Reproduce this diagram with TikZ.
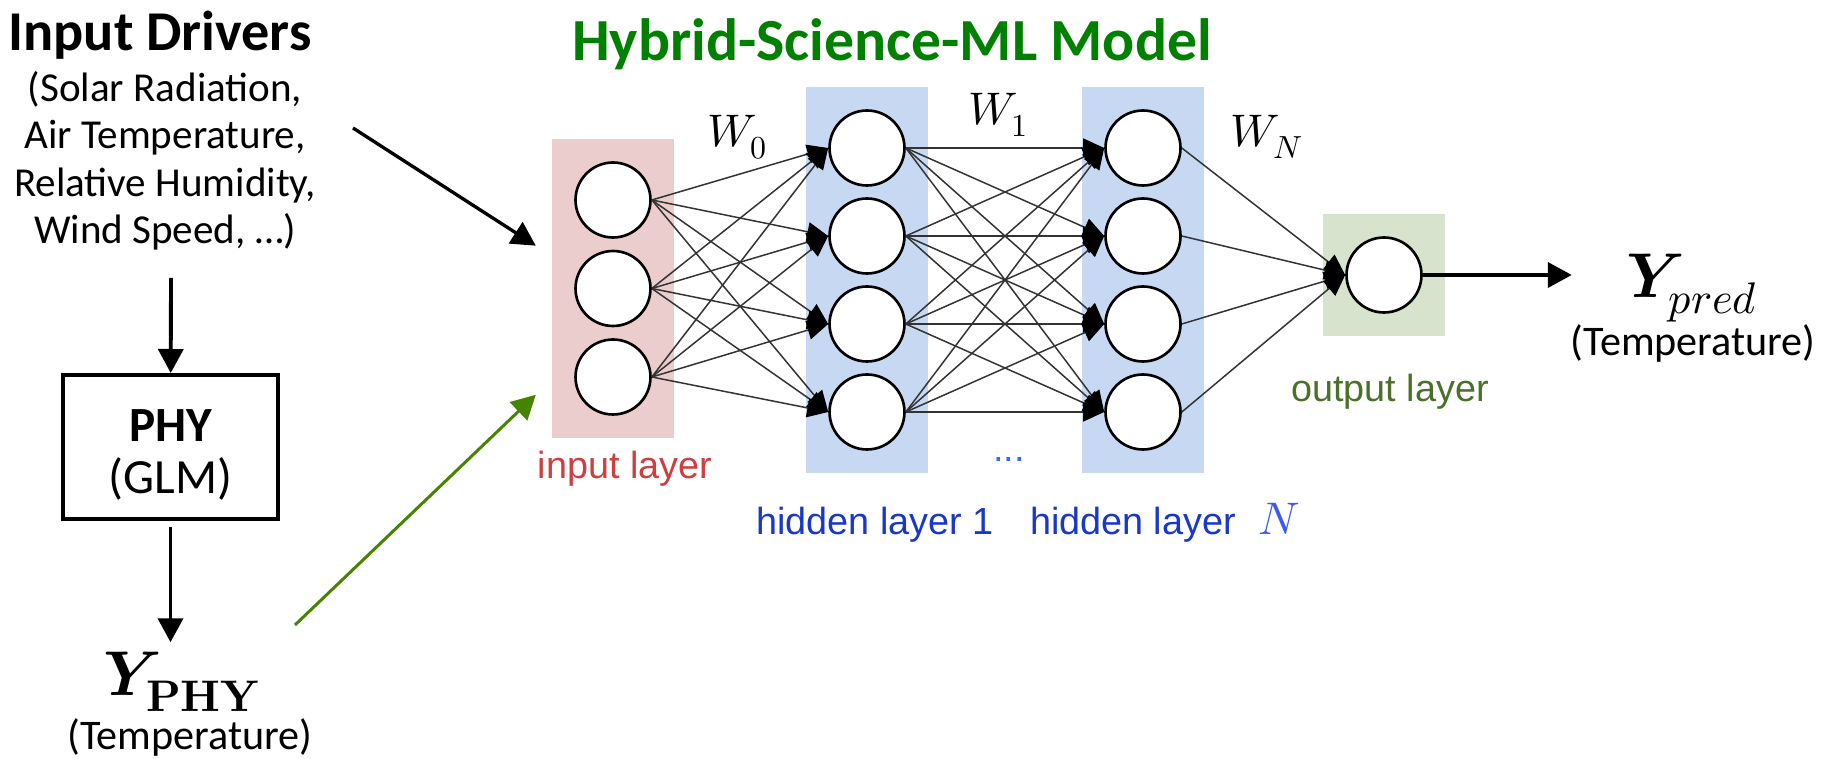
\documentclass[tikz,border=0pt]{standalone}
\usepackage{fontspec}
\usepackage{unicode-math}
\setmainfont{Carlito}
\newfontfamily\arialfont{Liberation Sans}
\usetikzlibrary{arrows.meta,fit,backgrounds}

\definecolor{inpink}{RGB}{236,205,205}
\definecolor{hidblue}{RGB}{199,217,242}
\definecolor{outgreen}{RGB}{215,227,205}
\definecolor{inred}{RGB}{204,64,64}
\definecolor{hidtext}{RGB}{25,55,200}
\definecolor{nblue}{RGB}{60,90,235}
\definecolor{dotblue}{RGB}{50,110,245}
\definecolor{outtext}{RGB}{74,112,42}
\definecolor{titlegreen}{RGB}{0,128,0}
\definecolor{feedgreen}{RGB}{70,132,0}

\begin{document}
\begin{tikzpicture}[
  x=0.02cm, y=-0.02cm,
  neuron/.style  = {draw, circle, fill=white, line width=1.5pt, minimum size=1.5cm, inner sep=0pt},
  layerbg/.style = {inner sep=0.45cm, fill=#1},
  syn/.style     = {draw=black!80, line width=0.85pt, -{Triangle[length=0.42cm, width=0.38cm, color=black]}},
  fat/.style     = {line width=2.2pt, -{Triangle[length=0.48cm, width=0.5cm]}},
  lyr/.style     = {font=\arialfont\fontsize{21.5}{24}\selectfont, anchor=base},
  wlab/.style    = {font=\fontsize{26}{29}\selectfont, anchor=base},
  ylab/.style    = {font=\fontsize{36}{40}\selectfont, anchor=base, inner sep=0pt},
  temp/.style    = {font=\fontsize{24}{27}\selectfont, anchor=base},
]

\useasboundingbox (0,0) rectangle (1829,759);

% --- title ----------------------------------------------------------------
\node[font=\bfseries\fontsize{34}{38}\selectfont, text=titlegreen, anchor=base] (title) at (892,61) {Hybrid-Science-ML Model};

% --- drivers and physics model (left column) -----------------------------
\node[font=\bfseries\fontsize{32}{36}\selectfont, anchor=base] (drv) at (160,51) {Input Drivers};
\node[font=\fontsize{23.4}{27}\selectfont, align=center] (drvlist) at (165,161) {%
  (Solar Radiation,\\ Air Temperature,\\ Relative Humidity,\\ Wind Speed, …)};

\node[draw, line width=2.3pt, minimum width=4.3cm, minimum height=2.88cm] (phy) at (170.5,447) {};
\node[font=\bfseries\fontsize{28}{33}\selectfont, anchor=base] (phyname) at (170.5,442) {PHY};
\node[font=\fontsize{28}{33}\selectfont, anchor=base] (phyglm) at (170.5,494) {(GLM)};

\node[ylab] (ypy) at (182,696) {$\symbfit{Y}_{\symbf{PHY}}$};
\node[temp] (ypytemp) at (190,749) {(Temperature)};

\coordinate (drvfoot) at (171,278);
\coordinate (drvtail) at (353,128);
\coordinate (phytail) at (295,625);

% --- network ----------------------------------------------------------------
\foreach \n/\y in {1/200,2/288.5,3/377}
  \node[neuron] (i\n) at (613,\y) {};
\foreach \n/\y in {1/148,2/236,3/324,4/412} {
  \node[neuron] (a\n) at (867,\y) {};
  \node[neuron] (b\n) at (1143,\y) {};
}
\node[neuron] (o) at (1384,275) {};

\begin{scope}[on background layer]
  \node[layerbg=inpink, fit=(i1)(i3)] (inl) {};
  \node[layerbg=hidblue, fit=(a1)(a4)] (hl1) {};
  \node[layerbg=hidblue, fit=(b1)(b4)] (hln) {};
  \node[layerbg=outgreen, fit=(o)] (outl) {};
\end{scope}

\foreach \i in {1,2,3}
  \foreach \j in {1,...,4}
    \draw[syn] (i\i.east) -- (a\j.west);
\foreach \i in {1,...,4}
  \foreach \j in {1,...,4}
    \draw[syn] (a\i.east) -- (b\j.west);
\foreach \i in {1,...,4}
  \draw[syn] (b\i.east) -- (o.west);

\node[wlab] (w0) at (737,147) {$W_0$};
\node[wlab] (w1) at (998,125) {$W_1$};
\node[wlab] (wn) at (1267,147) {$W_N$};

\node[lyr, text=inred] (inlab) at (625,479) {input layer};
\node[lyr, text=hidtext] (h1lab) at (875,535) {hidden layer 1};
\node[lyr, text=hidtext] (hnlab) at (1165,535) {hidden layer\hspace{0.6em}{\color{nblue}\fontsize{26}{29}\selectfont$N$}};
\node[lyr, text=outtext] (outlab) at (1390,402) {output layer};
\node[lyr, text=dotblue] (dots) at (1009,462) {...};

% --- prediction -------------------------------------------------------------
\node[ylab] (ypred) at (1692,298) {$\symbfit{Y}_{pred}$};
\node[temp] (ypredtemp) at (1693,356) {(Temperature)};

% --- connectors -------------------------------------------------------------
\draw[fat] (drvfoot) -- (phy);
\draw[fat, shorten <=0.12cm, shorten >=0.2cm] (phy.south) -- (phy.south |- ypy.north);
\draw[fat, line width=1.9pt, shorten >=0.37cm] (drvtail) -- (inl.152.9);
\draw[fat, color=feedgreen, line width=1.7pt, shorten >=0.43cm] (phytail) -- (inl.236.8);
\draw[fat, shorten >=1.08cm] (o.east) -- (o.east -| ypred.west);

\end{tikzpicture}
\end{document}
